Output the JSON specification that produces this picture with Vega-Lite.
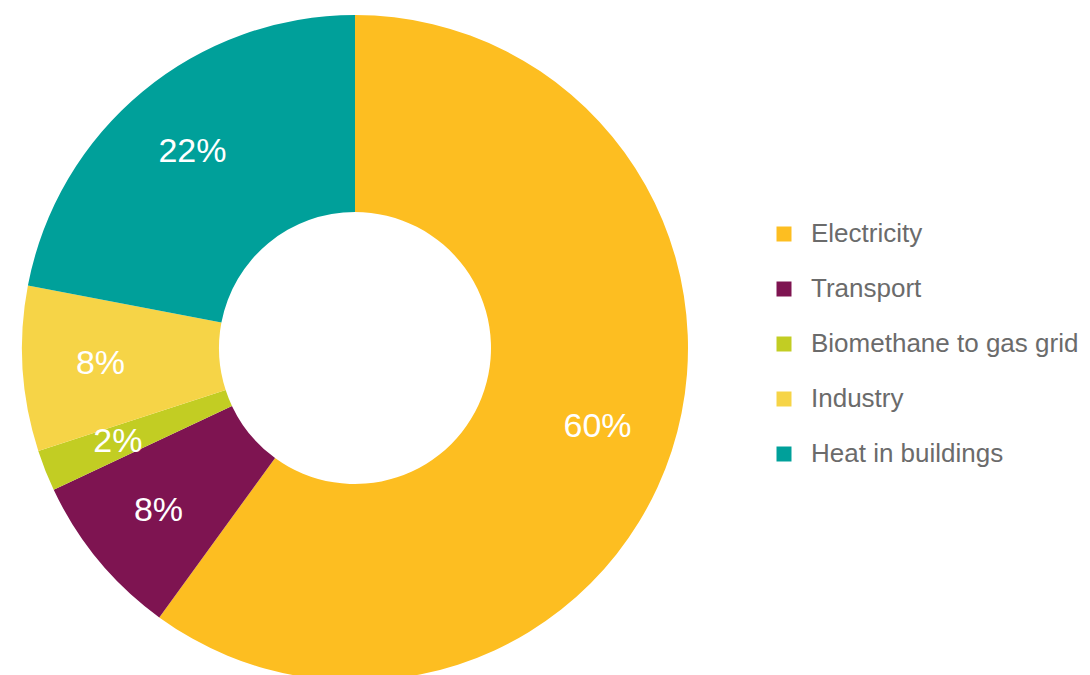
{
  "$schema": "https://vega.github.io/schema/vega-lite/v6.json",
  "autosize": {"type": "none"},
  "padding": {"left": 0, "top": 0, "right": 380, "bottom": 0},
  "width": 710,
  "height": 696,
  "background": "white",
  "config": {"view": {"stroke": null}, "font": "Liberation Sans"},
  "data": {"values": [
    {"sector": "Electricity", "share": 60, "order": 1, "label": "60%"},
    {"sector": "Transport", "share": 8, "order": 2, "label": "8%"},
    {"sector": "Biomethane to gas grid", "share": 2, "order": 3, "label": "2%"},
    {"sector": "Industry", "share": 8, "order": 4, "label": "8%"},
    {"sector": "Heat in buildings", "share": 22, "order": 5, "label": "22%"}
  ]},
  "encoding": {
    "theta": {"field": "share", "type": "quantitative", "stack": true},
    "order": {"field": "order", "type": "quantitative"},
    "color": {
      "field": "sector", "type": "nominal",
      "scale": {
        "domain": ["Electricity", "Transport", "Biomethane to gas grid", "Industry", "Heat in buildings"],
        "range": ["#FDBE21", "#7E1451", "#C2CD23", "#F6D447", "#00A09A"]
      },
      "legend": {
        "title": null,
        "orient": "none",
        "legendX": 771,
        "legendY": 221,
        "symbolType": "square",
        "symbolSize": 225,
        "symbolStrokeWidth": 0,
        "labelFontSize": 26,
        "labelColor": "#6b6b6b",
        "labelFont": "Liberation Sans",
        "labelOffset": 14,
        "rowPadding": 29,
        "labelLimit": 400
      }
    }
  },
  "layer": [
    {"mark": {"type": "arc", "outerRadius": 333, "innerRadius": 136, "stroke": null}},
    {"mark": {"type": "text", "radius": 255, "fontSize": 34, "fill": "white", "font": "Liberation Sans"},
     "encoding": {"text": {"field": "label"}, "color": {"value": "white"}}}
  ]
}
